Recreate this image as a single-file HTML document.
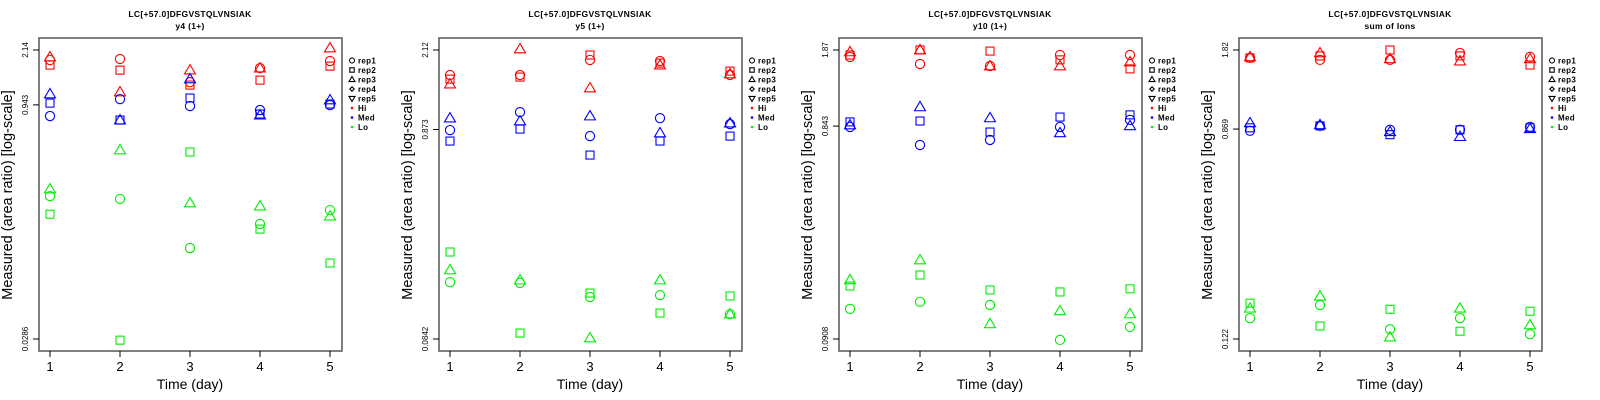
<!DOCTYPE html>
<html><head><meta charset="utf-8">
<style>
html,body{margin:0;padding:0;background:#fff;}
svg{display:block;font-family:"Liberation Sans",sans-serif;}
</style></head>
<body>
<svg id="chart" width="1600" height="400" viewBox="0 0 1600 400" xmlns="http://www.w3.org/2000/svg"></svg>
<script>
// Shared categories
const days = [1, 2, 3, 4, 5];
const reps = ['rep1', 'rep2', 'rep3'];
const groups = ['Hi', 'Med', 'Lo'];
const legendLabels = ['rep1', 'rep2', 'rep3', 'rep4', 'rep5', 'Hi', 'Med', 'Lo'];
const panelTitles = ['y4 (1+)', 'y5 (1+)', 'y10 (1+)', 'sum of Ions'];
const peptide = 'LC[+57.0]DFGVSTQLVNSIAK';
// y tick labels per panel [top, mid, bottom]
const tickLabels = [['2.14', '0.943', '0.0286'], ['2.12', '0.873', '0.0842'], ['1.87', '0.843', '0.0908'], ['1.82', '0.869', '0.122']];
// Data: log10(area ratio), indexed [group][day][rep1, rep2, rep3]
const p1Hi = [[0.265, 0.233, 0.285], [0.272, 0.200, 0.058], [0.122, 0.103, 0.200], [0.213, 0.135, 0.213], [0.259, 0.226, 0.343]];
const p1Med = [[-0.098, -0.014, 0.045], [0.012, -0.124, -0.124], [-0.033, 0.019, 0.142], [-0.059, -0.085, -0.092], [-0.027, -0.020, 0.006]];
const p1Lo = [[-0.617, -0.734, -0.571], [-0.636, -1.551, -0.318], [-0.954, -0.331, -0.662], [-0.798, -0.831, -0.682], [-0.708, -1.051, -0.747]];
const p2Hi = [[0.205, 0.185, 0.161], [0.205, 0.195, 0.331], [0.278, 0.302, 0.142], [0.273, 0.263, 0.253], [0.205, 0.224, 0.210]];
const p2Med = [[-0.062, -0.115, -0.004], [0.025, -0.057, -0.018], [-0.091, -0.183, 0.006], [-0.004, -0.115, -0.076], [-0.033, -0.091, -0.028]];
const p2Lo = [[-0.799, -0.653, -0.740], [-0.803, -1.046, -0.789], [-0.871, -0.852, -1.070], [-0.862, -0.949, -0.789], [-0.954, -0.866, -0.954]];
const p3Hi = [[0.240, 0.249, 0.263], [0.208, 0.272, 0.272], [0.199, 0.267, 0.199], [0.249, 0.227, 0.199], [0.249, 0.186, 0.217]];
const p3Med = [[-0.078, -0.055, -0.069], [-0.160, -0.051, 0.013], [-0.137, -0.101, -0.037], [-0.078, -0.033, -0.105], [-0.046, -0.023, -0.073]];
const p3Lo = [[-0.905, -0.801, -0.773], [-0.873, -0.751, -0.683], [-0.887, -0.819, -0.973], [-1.046, -0.828, -0.914], [-0.987, -0.814, -0.928]];
const p4Hi = [[0.228, 0.228, 0.232], [0.220, 0.236, 0.248], [0.220, 0.260, 0.224], [0.248, 0.236, 0.215], [0.232, 0.199, 0.224]];
const p4Med = [[-0.068, -0.056, -0.036], [-0.048, -0.048, -0.044], [-0.064, -0.084, -0.072], [-0.064, -0.064, -0.092], [-0.052, -0.056, -0.060]];
const p4Lo = [[-0.829, -0.768, -0.789], [-0.776, -0.861, -0.740], [-0.874, -0.793, -0.906], [-0.829, -0.882, -0.789], [-0.894, -0.801, -0.857]];

const panelData = [[p1Hi, p1Med, p1Lo], [p2Hi, p2Med, p2Lo], [p3Hi, p3Med, p3Lo], [p4Hi, p4Med, p4Lo]];
const colors = ['#ff0000', '#0000ff', '#00ee00'];
const NS = 'http://www.w3.org/2000/svg';
const svg = document.getElementById('chart');
function mk(tag, attrs, parent) {
  const e = document.createElementNS(NS, tag);
  for (const k in attrs) e.setAttribute(k, attrs[k]);
  parent.appendChild(e);
  return e;
}
function marker(shape, cx, cy, col, parent, s) {
  let e;
  if (shape === 0) e = mk('circle', {cx: cx, cy: cy, r: 4.6 * s, fill: 'none', stroke: col, 'stroke-width': 1.1}, parent);
  else if (shape === 1) e = mk('rect', {x: cx - 4 * s, y: cy - 4 * s, width: 8 * s, height: 8 * s, fill: 'none', stroke: col, 'stroke-width': 1.1}, parent);
  else if (shape === 2) e = mk('polygon', {points: `${cx},${cy - 5.5 * s} ${cx + 5.5 * s},${cy + 3.8 * s} ${cx - 5.5 * s},${cy + 3.8 * s}`, fill: 'none', stroke: col, 'stroke-width': 1.1}, parent);
  else if (shape === 3) e = mk('polygon', {points: `${cx},${cy - 4 * s} ${cx + 4 * s},${cy} ${cx},${cy + 4 * s} ${cx - 4 * s},${cy}`, fill: 'none', stroke: col, 'stroke-width': 1.1}, parent);
  else e = mk('polygon', {points: `${cx},${cy + 5.5 * s} ${cx + 5.5 * s},${cy - 3.8 * s} ${cx - 5.5 * s},${cy - 3.8 * s}`, fill: 'none', stroke: col, 'stroke-width': 1.1}, parent);
  return e;
}

for (let p = 0; p < 4; p++) {
  const ox = p * 400;
  const g = mk('g', {}, svg);
  
  
  const lt = Math.log10(parseFloat(tickLabels[p][0]));
  const lb = Math.log10(parseFloat(tickLabels[p][2]));
  const yS = L => 50 + (lt - L) / (lt - lb) * 289;
  const xS = d => ox + 50 + (d - 1) * 70;

  const t1 = mk('text', {x: ox + 190, y: 17, 'text-anchor': 'middle', 'font-size': 8.5, 'font-weight': 'bold', 'letter-spacing': '0.3'}, g);
  t1.textContent = peptide;
  
  
  const t2 = mk('text', {x: ox + 190, y: 29, 'text-anchor': 'middle', 'font-size': 8.5, 'font-weight': 'bold', 'letter-spacing': '0.3'}, g);
  t2.textContent = panelTitles[p];
  
  

  const box = mk('rect', {x: ox + 39, y: 38, width: 303, height: 313, fill: 'none', stroke: '#555', 'stroke-width': 1.5}, g);
  
  

  // y ticks
  const tvals = tickLabels[p].map(v => Math.log10(parseFloat(v)));
  for (let i = 0; i < 3; i++) {
    const y = yS(tvals[i]);
    mk('line', {x1: ox + 33, x2: ox + 39, y1: y, y2: y, stroke: '#000', 'stroke-width': 1}, g);
    const tl = mk('text', {x: 0, y: 0, 'text-anchor': 'middle', 'font-size': 8, transform: `translate(${ox + 28},${y}) rotate(-90)`}, g);
    tl.textContent = tickLabels[p][i];
    
    
  }
  // x ticks
  for (const d of days) {
    mk('line', {x1: xS(d), x2: xS(d), y1: 351, y2: 357, stroke: '#000', 'stroke-width': 1}, g);
    const xl = mk('text', {x: xS(d), y: 371, 'text-anchor': 'middle', 'font-size': 13}, g);
    xl.textContent = d;
    
    
  }
  const xt = mk('text', {x: ox + 190, y: 389, 'text-anchor': 'middle', 'font-size': 14}, g);
  xt.textContent = 'Time (day)';
  
  
  const yt = mk('text', {x: 0, y: 0, 'text-anchor': 'middle', 'font-size': 14.5, transform: `translate(${ox + 12},195) rotate(-90)`}, g);
  yt.textContent = 'Measured (area ratio) [log-scale]';
  
  

  // points
  for (let gi = 0; gi < 3; gi++) {
    const arr = panelData[p][gi];
    for (let di = 0; di < days.length; di++) {
      for (let r = 0; r < reps.length; r++) {
        const m = marker(r, xS(days[di]), yS(arr[di][r]), colors[gi], g, 1);
        
        
      }
    }
  }

  // legend
  const lg = mk('g', {}, g);
  
  
  for (let i = 0; i < legendLabels.length; i++) {
    const y = 60.5 + i * 9.5;
    if (i < 5) {
      marker(i, ox + 352, y, '#000', lg, 0.55);
    } else {
      mk('circle', {cx: ox + 352, cy: y, r: 1.3, fill: colors[i - 5]}, lg);
    }
    const lt2 = mk('text', {x: ox + 358, y: y + 3, 'font-size': 8, 'font-weight': 'bold', 'letter-spacing': '0.3'}, lg);
    lt2.textContent = legendLabels[i];
    
    
  }
}
</script>
</body></html>
